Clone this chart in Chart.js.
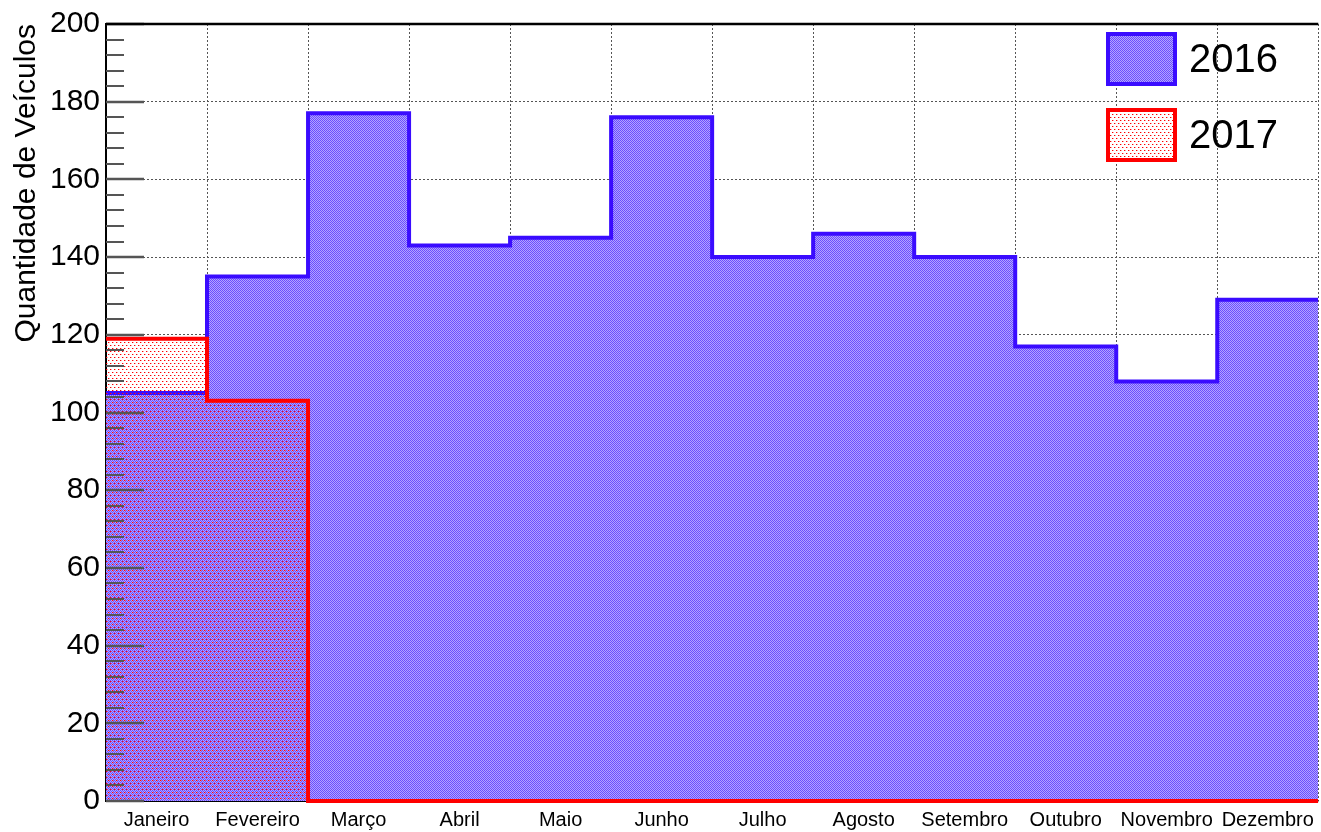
<!DOCTYPE html>
<html>
<head>
<meta charset="UTF-8">
<title>Quantidade de Veículos</title>
<script src="https://cdn.jsdelivr.net/npm/chart.js"></script>
<style>
  html, body { margin: 0; padding: 0; background: #ffffff; }
  #wrap { width: 1321px; height: 832px; }
</style>
</head>
<body>
<div id="wrap"><canvas id="chart" width="1321" height="832"></canvas></div>
<script>
const months = ['Janeiro', 'Fevereiro', 'Março', 'Abril', 'Maio', 'Junho', 'Julho', 'Agosto', 'Setembro', 'Outubro', 'Novembro', 'Dezembro'];
const values2016 = [105, 135, 177, 143, 145, 176, 140, 146, 140, 117, 108, 129];
const values2017 = [119, 103, 0, 0, 0, 0, 0, 0, 0, 0, 0, 0];
const yTicks = [0, 20, 40, 60, 80, 100, 120, 140, 160, 180, 200];

const blue = '#3a0cff';
const red = '#ff0000';
const FONT = "'Liberation Sans', Arial, Helvetica, sans-serif";

// histogram bins as step points on bin edges (last edge repeats last value)
function toSteps(vals) {
  const pts = vals.map((v, i) => ({ x: i, y: v }));
  pts.push({ x: vals.length, y: vals[vals.length - 1] });
  return pts;
}

function makePattern(w, h, paint) {
  const c = document.createElement('canvas');
  c.width = w; c.height = h;
  paint(c.getContext('2d'));
  return document.getElementById('chart').getContext('2d').createPattern(c, 'repeat');
}

const bluePattern = makePattern(2, 2, g => {
  g.fillStyle = '#6a4dff';
  g.fillRect(0, 0, 1, 1);
  g.fillRect(1, 1, 1, 1);
  g.fillStyle = '#b2a4ff';
  g.fillRect(1, 0, 1, 1);
  g.fillRect(0, 1, 1, 1);
});

const redPattern = makePattern(4, 6, g => {
  g.fillStyle = '#ff0000';
  g.fillRect(0, 0, 1, 1);
  g.fillRect(2, 3, 1, 1);
  g.fillStyle = 'rgba(255,60,60,0.45)';
  g.fillRect(1, 0, 1, 1);
  g.fillRect(3, 3, 1, 1);
});

// ticks drawn inside the frame, legend and frame top, like ROOT
const frameBits = {
  id: 'frameBits',
  beforeDatasetsDraw(chart) {
    const { ctx, chartArea: a } = chart;
    ctx.save();
    ctx.strokeStyle = '#000';
    ctx.lineWidth = 2;
    ctx.beginPath();
    ctx.moveTo(a.left, a.bottom);
    ctx.lineTo(a.right, a.bottom);
    ctx.stroke();
    ctx.restore();
  },
  afterDraw(chart) {
    const { ctx, chartArea: a } = chart;
    const y = chart.scales.y;
    ctx.save();
    ctx.strokeStyle = '#555';
    for (let v = 0; v <= 200; v += 4) {
      const py = Math.round(y.getPixelForValue(v));
      const major = v % 20 === 0;
      ctx.lineWidth = major ? 2.5 : 2;
      ctx.beginPath();
      ctx.moveTo(a.left, py);
      ctx.lineTo(a.left + (major ? 38 : 18), py);
      ctx.stroke();
    }
    ctx.strokeStyle = '#000';
    ctx.lineWidth = 2.5;
    ctx.beginPath();
    ctx.moveTo(a.left, a.top);
    ctx.lineTo(a.right, a.top);
    ctx.stroke();

    // legend
    const entries = [
      { label: '2016', fill: bluePattern, stroke: blue, top: 34 },
      { label: '2017', fill: redPattern, stroke: red, top: 110 }
    ];
    entries.forEach(e => {
      ctx.fillStyle = '#fff';
      ctx.fillRect(1108, e.top, 67, 50);
      ctx.fillStyle = e.fill;
      ctx.fillRect(1108, e.top, 67, 50);
      ctx.strokeStyle = e.stroke;
      ctx.lineWidth = 4;
      ctx.strokeRect(1108, e.top, 67, 50);
      ctx.fillStyle = '#000';
      ctx.font = '40px ' + FONT;
      ctx.textBaseline = 'middle';
      ctx.textAlign = 'left';
      ctx.fillText(e.label, 1189, e.top + 27);
    });
    ctx.restore();
  }
};

new Chart(document.getElementById('chart'), {
  type: 'line',
  data: {
    datasets: [
      {
        label: '2017',
        data: toSteps(values2017),
        stepped: 'before',
        borderColor: red,
        borderWidth: 4,
        backgroundColor: redPattern,
        fill: 'origin',
        pointRadius: 0,
        clip: { left: 0, top: 0, right: 0, bottom: 3 },
        order: 0
      },
      {
        label: '2016',
        data: toSteps(values2016),
        stepped: 'before',
        borderColor: blue,
        borderWidth: 4,
        backgroundColor: bluePattern,
        fill: 'origin',
        pointRadius: 0,
        order: 1
      }
    ]
  },
  options: {
    responsive: false,
    animation: false,
    layout: { padding: { top: 23, right: 0, left: 0, bottom: 0 } },
    plugins: { legend: { display: false }, tooltip: { enabled: false } },
    scales: {
      x: {
        type: 'linear',
        min: 0,
        max: 12,
        z: 1,
        ticks: { display: false, stepSize: 1 },
        grid: { color: '#555', lineWidth: 1, drawTicks: false },
        border: { display: false, dash: [2, 2] },
        afterFit: s => { s.height = 0; }
      },
      months: {
        type: 'category',
        labels: months,
        position: 'bottom',
        offset: true,
        grid: { display: false, drawTicks: false },
        border: { display: false },
        ticks: { color: '#000', font: { size: 20, family: FONT }, padding: 7, maxRotation: 0, autoSkip: false },
        afterFit: s => { s.height = 31; }
      },
      y: {
        min: 0,
        max: 200,
        z: 1,
        afterBuildTicks: s => { s.ticks = yTicks.map(v => ({ value: v })); },
        ticks: { color: '#000', font: { size: 30, family: FONT }, padding: 6 },
        grid: { color: ctx => (ctx.tick && (ctx.tick.value === 0 || ctx.tick.value === 200)) ? 'rgba(0,0,0,0)' : '#555', lineWidth: 1, drawTicks: false },
        border: { display: true, color: '#000', width: 2, dash: [2, 2] },
        title: { display: true, text: 'Quantidade de Veículos', align: 'end', color: '#000', font: { size: 30, family: FONT }, padding: { top: 9, bottom: 0 } },
        afterFit: s => { s.width = 106; }
      }
    }
  },
  plugins: [frameBits]
});
</script>
</body>
</html>
